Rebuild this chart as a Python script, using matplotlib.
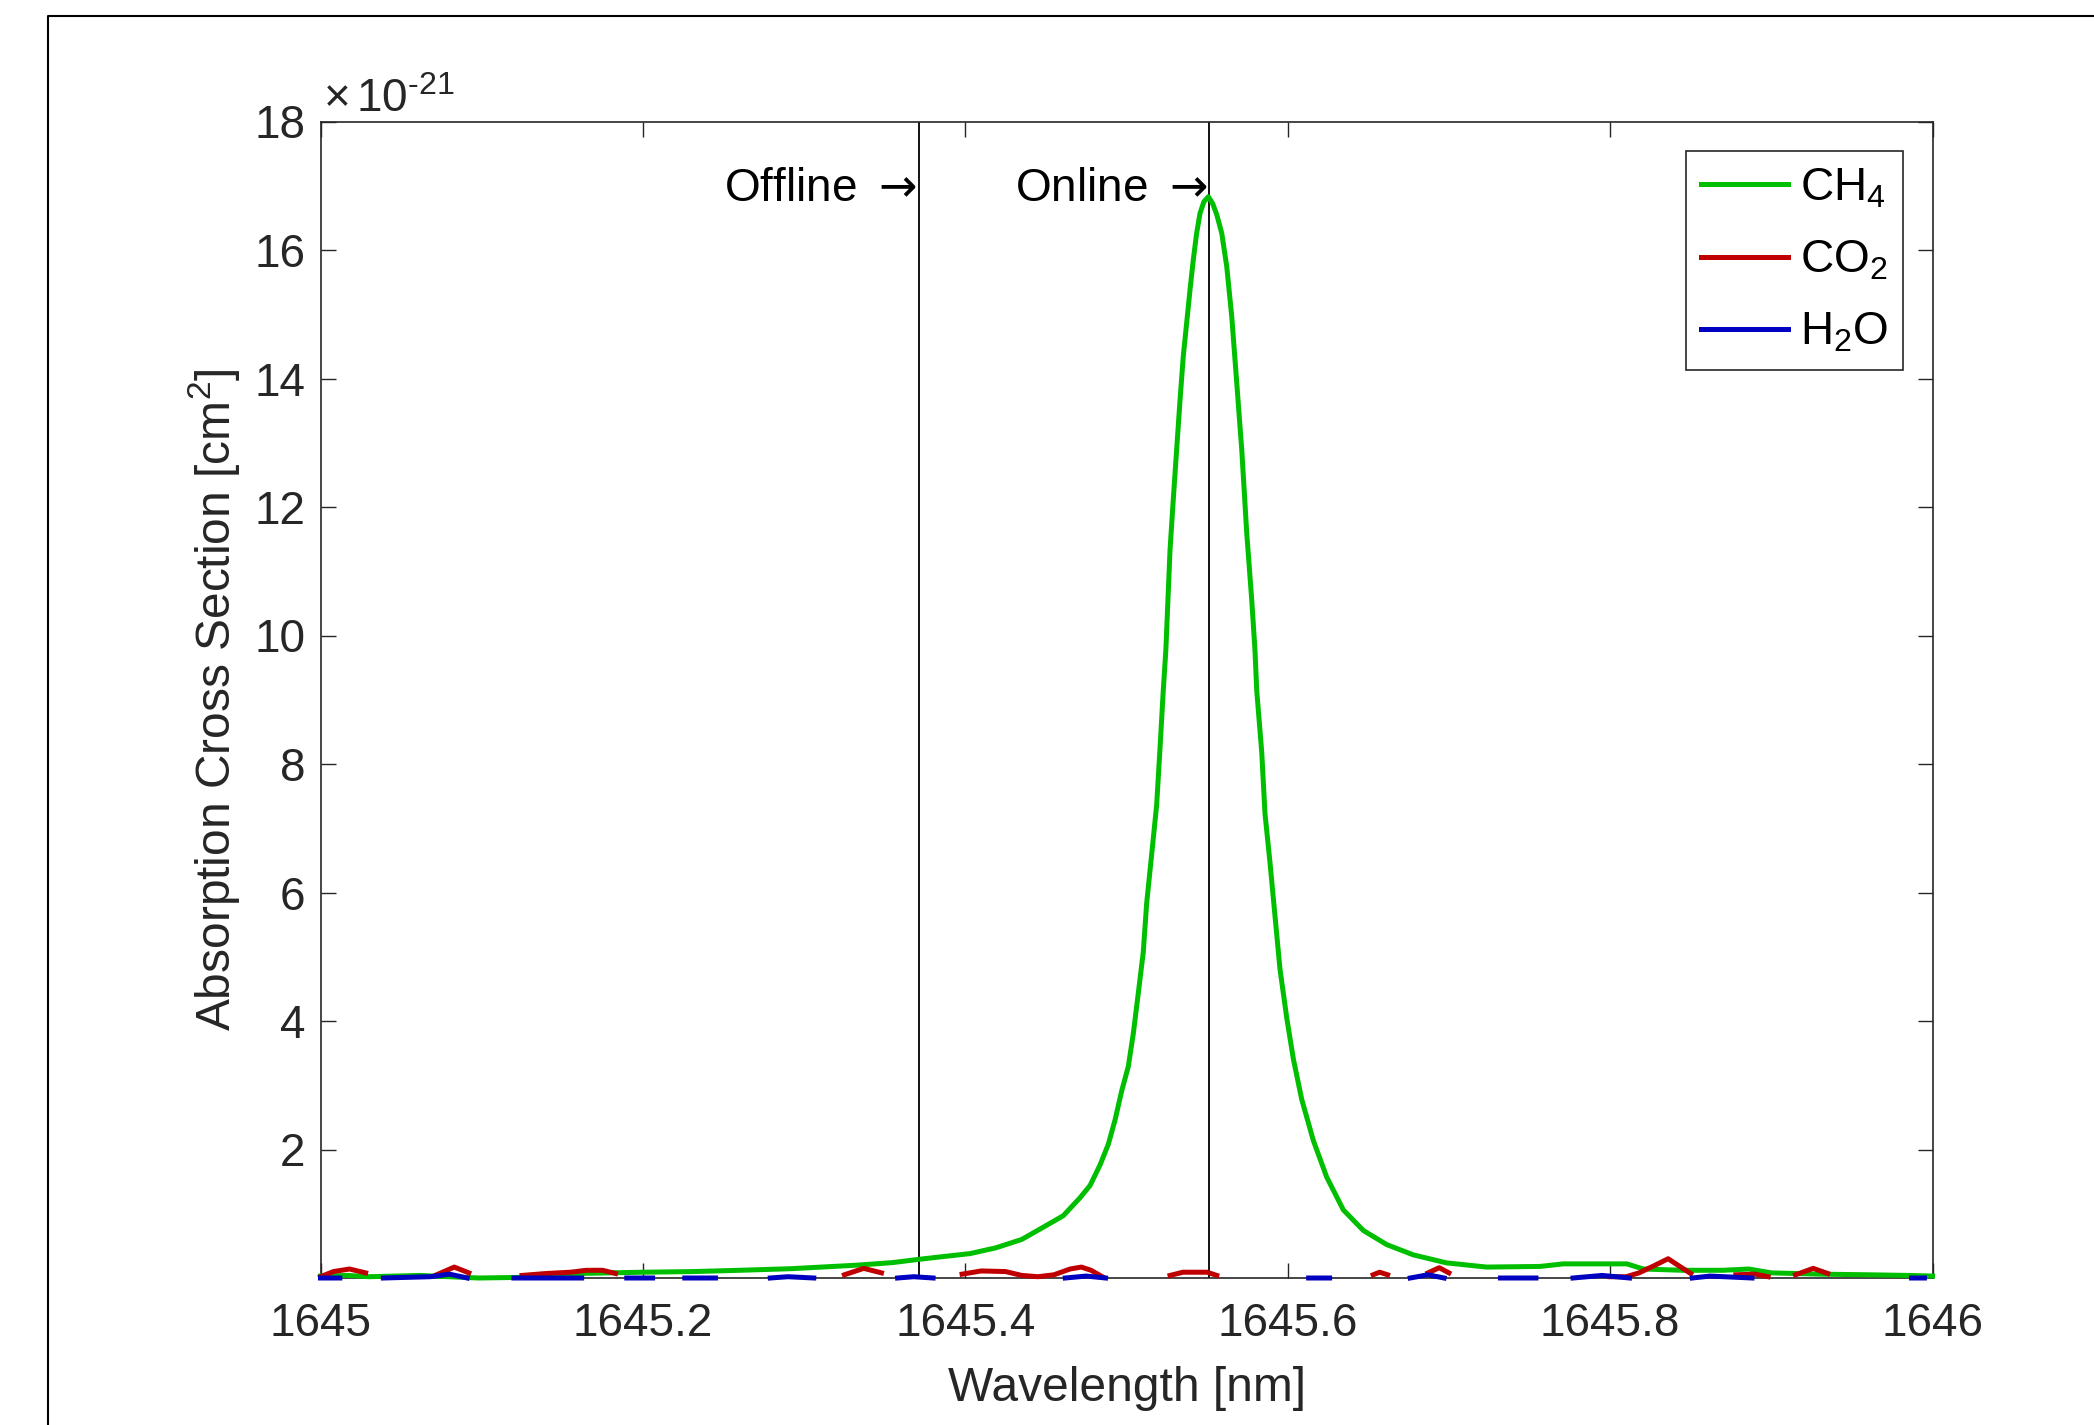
"""Absorption cross sections near the 1645.55 nm CH4 line."""

import matplotlib

matplotlib.use("Agg")
import matplotlib.pyplot as plt
import numpy as np
from matplotlib.lines import Line2D

plt.rcParams["font.family"] = ["Liberation Sans", "DejaVu Sans"]
plt.rcParams["mathtext.fontset"] = "custom"
plt.rcParams["mathtext.rm"] = "Liberation Sans"
plt.rcParams["mathtext.it"] = "Liberation Sans:italic"
plt.rcParams["mathtext.bf"] = "Liberation Sans:bold"

# cross sections in units of 1e-21 cm^2, wavelength offset from 1645 nm
ch4_dw = [0.000, 0.017, 0.030, 0.062, 0.080, 0.098, 0.126, 0.159, 0.200, 0.231,
          0.260, 0.292, 0.333, 0.355, 0.371, 0.385, 0.403, 0.419, 0.435, 0.4525,
          0.4608, 0.4712, 0.4774, 0.4836, 0.4887, 0.4929, 0.4970, 0.5011, 0.5042,
          0.5073, 0.5104, 0.5125, 0.5156, 0.5187, 0.5208, 0.5228, 0.5244, 0.5270,
          0.5290, 0.5311, 0.5332, 0.5352, 0.5373, 0.5394, 0.5414, 0.5435, 0.5456,
          0.5480, 0.5508, 0.5535, 0.5560, 0.5591, 0.5622, 0.5653, 0.5684, 0.5715,
          0.5746, 0.5777, 0.5797, 0.5808, 0.5839, 0.5859, 0.5890, 0.5921, 0.5952,
          0.5994, 0.6035, 0.6087, 0.6159, 0.6242, 0.6345, 0.6469, 0.6614, 0.6779,
          0.6986, 0.7234, 0.7565, 0.7710, 0.8103, 0.8206, 0.845, 0.870, 0.886,
          0.900, 0.930, 0.960, 0.985, 1.000]
ch4_sigma = [0.03, 0.04, 0.02, 0.04, 0.02, 0.00, 0.01, 0.07, 0.09, 0.10,
             0.12, 0.145, 0.20, 0.24, 0.29, 0.33, 0.38, 0.47, 0.60, 0.85,
             0.97, 1.25, 1.44, 1.76, 2.08, 2.46, 2.91, 3.29, 3.80,
             4.43, 5.07, 5.83, 6.59, 7.36, 8.25, 9.14, 9.77, 11.33,
             12.11, 12.89, 13.66, 14.34, 14.86, 15.38, 15.84, 16.26, 16.57,
             16.75, 16.83, 16.72, 16.55, 16.26, 15.74, 14.96, 13.93, 12.89,
             11.59, 10.55, 9.77, 9.14, 8.18, 7.23, 6.47, 5.64, 4.81,
             4.05, 3.41, 2.78, 2.14, 1.57, 1.06, 0.74, 0.52, 0.36,
             0.235, 0.17, 0.18, 0.22, 0.22, 0.14, 0.12, 0.12, 0.14,
             0.08, 0.06, 0.05, 0.04, 0.03]

co2_dw = [0.000, 0.008, 0.018, 0.028, 0.035,
          0.068, 0.072, 0.083, 0.092, 0.097,
          0.118, 0.125, 0.140, 0.155, 0.165, 0.175, 0.183, 0.190,
          0.318, 0.325, 0.337, 0.348, 0.356,
          0.392, 0.398, 0.410, 0.425, 0.435, 0.445, 0.455, 0.465, 0.472, 0.478, 0.485, 0.490,
          0.522, 0.527, 0.535, 0.550, 0.556, 0.562,
          0.593, 0.597, 0.601,
          0.649, 0.653, 0.657, 0.662, 0.666,
          0.682, 0.687, 0.694, 0.700, 0.706,
          0.795, 0.800, 0.810, 0.818, 0.828, 0.836, 0.842, 0.850, 0.856,
          0.872, 0.878, 0.890, 0.898, 0.903,
          0.910, 0.915, 0.926, 0.935, 0.941,
          0.995, 1.000]
co2_sigma = [0.02, 0.10, 0.14, 0.08, -0.05,
             -0.05, 0.05, 0.17, 0.08, -0.05,
             -0.05, 0.04, 0.07, 0.09, 0.12, 0.12, 0.07, -0.03,
             -0.05, 0.05, 0.15, 0.08, -0.02,
             -0.04, 0.06, 0.11, 0.10, 0.04, 0.02, 0.05, 0.14, 0.17, 0.12, 0.02, -0.05,
             -0.05, 0.04, 0.09, 0.09, 0.04, -0.05,
             -0.05, 0.02, -0.05,
             -0.05, 0.05, 0.09, 0.05, -0.05,
             -0.05, 0.08, 0.16, 0.08, -0.05,
             -0.03, 0.02, 0.02, 0.08, 0.20, 0.30, 0.20, 0.07, -0.03,
             -0.03, 0.05, 0.06, 0.02, -0.03,
             -0.03, 0.05, 0.15, 0.07, -0.03,
             -0.03, 0.04]

h2o_dw = [0.000, 0.012, 0.025,
          0.039, 0.068, 0.080, 0.091, 0.105,
          0.120, 0.162, 0.176,
          0.190, 0.206, 0.216,
          0.226, 0.245, 0.262,
          0.279, 0.290, 0.306, 0.330,
          0.358, 0.368, 0.380, 0.420,
          0.462, 0.475, 0.487, 0.550,
          0.613, 0.626, 0.650,
          0.676, 0.687, 0.697, 0.715,
          0.732, 0.754, 0.765,
          0.777, 0.795, 0.812, 0.830,
          0.851, 0.862, 0.888, 0.940,
          0.987, 0.995]
h2o_sigma = [0.00, 0.00, -0.03,
             0.00, 0.02, 0.06, 0.00, -0.03,
             0.00, 0.00, -0.03,
             0.00, 0.00, -0.03,
             0.00, 0.00, -0.03,
             0.00, 0.02, 0.00, -0.03,
             0.00, 0.02, 0.00, -0.03,
             0.00, 0.03, 0.00, -0.03,
             0.00, 0.00, -0.03,
             0.00, 0.05, 0.00, -0.03,
             0.00, 0.00, -0.03,
             0.00, 0.04, 0.00, -0.03,
             0.00, 0.03, 0.00, -0.03,
             0.00, 0.00]

offline_nm = 1645.371
online_nm = 1645.551

x_ticks = [1645, 1645.2, 1645.4, 1645.6, 1645.8, 1646]
x_tick_labels = ["1645", "1645.2", "1645.4", "1645.6", "1645.8", "1646"]
y_ticks = [2, 4, 6, 8, 10, 12, 14, 16, 18]
y_tick_labels = ["2", "4", "6", "8", "10", "12", "14", "16", "18"]

W, H = 2094, 1425
fig = plt.figure(figsize=(W / 100, H / 100), dpi=100)
ax = fig.add_axes([320.5 / W, 1 - 1278 / H, 1612 / W, 1156.5 / H])

axis_gray = "#262626"
fs = 33
label_fs = 34.5
lw = 3.6


def visible(vals):
    # parts below zero fall outside the axes in the original figure
    v = np.asarray(vals, dtype=float)
    return np.where(v >= 0, v, np.nan)


ax.plot(1645 + np.asarray(ch4_dw), ch4_sigma, color="#00bf00", lw=lw,
        label="CH$_4$", clip_on=False, zorder=3)
ax.plot(1645 + np.asarray(co2_dw), visible(co2_sigma), color="#c00000", lw=lw,
        label="CO$_2$", clip_on=False, zorder=3)
ax.plot(1645 + np.asarray(h2o_dw), visible(h2o_sigma), color="#0000c0", lw=lw,
        label="H$_2$O", clip_on=False, zorder=3)

ax.axvline(offline_nm, color="black", lw=1.3, zorder=2)
ax.axvline(online_nm, color="black", lw=1.3, zorder=2)
ax.text(offline_nm - 0.001, 16.95, r"Offline $\rightarrow$", ha="right",
        va="center", fontsize=fs, color="black", math_fontfamily="dejavusans")
ax.text(online_nm - 0.001, 16.95, r"Online $\rightarrow$", ha="right",
        va="center", fontsize=fs, color="black", math_fontfamily="dejavusans")

ax.set_xlim(1645, 1646)
ax.set_ylim(0, 18)
ax.set_xticks(x_ticks, x_tick_labels)
ax.set_yticks(y_ticks, y_tick_labels)
ax.tick_params(direction="in", length=11, width=1.0, colors=axis_gray,
               labelsize=fs, top=True, right=True)
ax.tick_params(axis="x", pad=17)
ax.tick_params(axis="y", pad=11)
for spine in ax.spines.values():
    spine.set_color(axis_gray)
    spine.set_linewidth(1.2)

ax.set_xlabel("Wavelength [nm]", fontsize=label_fs, color=axis_gray)
ax.set_ylabel("Absorption Cross Section [cm$^2$]", fontsize=label_fs,
              color=axis_gray)
ax.xaxis.set_label_coords(0.5, -0.076)
ax.yaxis.set_label_coords(-0.049, 0.5)

ax.annotate(r"$\times\,10^{\text{-21}}$", xy=(0, 1), xycoords="axes fraction",
            xytext=(2, 7), textcoords="offset points", ha="left", va="baseline",
            fontsize=fs, color=axis_gray)

leg = ax.legend(loc="upper right", bbox_to_anchor=(1903 / W, 1 - 151 / H),
                bbox_transform=fig.transFigure, borderaxespad=0, fontsize=fs,
                frameon=True, fancybox=False, framealpha=1, handlelength=1.9,
                handletextpad=0.26, labelspacing=0.62, borderpad=0.33)
leg.get_frame().set_edgecolor(axis_gray)
leg.get_frame().set_linewidth(1.2)

# border of the exported figure window
fig.add_artist(Line2D([48 / W, 48 / W, 1], [0, 1 - 16 / H, 1 - 16 / H],
                      transform=fig.transFigure, color="black", lw=1.5))

fig.savefig("out.png", dpi=100)
plt.close(fig)
